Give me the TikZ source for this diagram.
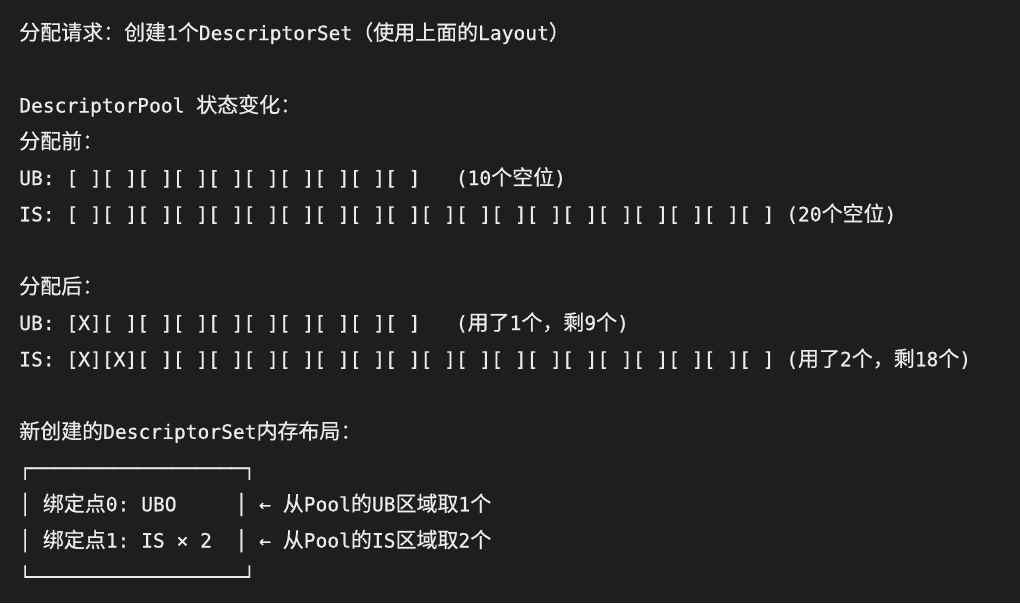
\documentclass[tikz,border=0pt]{standalone}
\usepackage{fontspec}
\setmonofont[FakeBold=0.7]{DejaVu Sans Mono}
\newfontfamily\zhfont[Scale=1.07, FakeBold=0.5]{Noto Sans CJK SC}
\newcommand\zh[1]{{\zhfont#1}}
\definecolor{codebg}{HTML}{1E1E1E}
\definecolor{codefg}{HTML}{ECECEC}
\tikzset{
    codeline/.style={anchor=base west, inner sep=0pt, text=codefg,
        font=\ttfamily\fontsize{14.7pt}{18pt}\selectfont\frenchspacing},
}

\begin{document}
\begin{tikzpicture}[x=0.75pt, y=-0.75pt]
                \fill[codebg] (0,0) rectangle (1020,603);

                \node[codeline] (req) at (19,40) {\zh{分配请求：创建}1\zh{个}DescriptorSet\zh{（使用上面的}Layout\zh{）}};

                \node[codeline] (poolhead) at (19,112.5) {DescriptorPool \zh{状态变化：}};
                \node[codeline] (beforehead) at (19,148.75) {\zh{分配前：}};
                \node[codeline] (ubbefore) at (19,185) {UB: [ ][ ][ ][ ][ ][ ][ ][ ][ ][ ]~~~(10\zh{个空位})};
                \node[codeline] (isbefore) at (19,221.25) {IS: [ ][ ][ ][ ][ ][ ][ ][ ][ ][ ][ ][ ][ ][ ][ ][ ][ ][ ][ ][ ] (20\zh{个空位})};

                \node[codeline] (afterhead) at (19,293.75) {\zh{分配后：}};
                \node[codeline] (ubafter) at (19,330) {UB: [X][ ][ ][ ][ ][ ][ ][ ][ ][ ]~~~(\zh{用了}1\zh{个，剩}9\zh{个})};
                \node[codeline] (isafter) at (19,366.25) {IS: [X][X][ ][ ][ ][ ][ ][ ][ ][ ][ ][ ][ ][ ][ ][ ][ ][ ][ ][ ] (\zh{用了}2\zh{个，剩}18\zh{个})};

                \node[codeline] (sethead) at (19,438.75) {\zh{新创建的}DescriptorSet\zh{内存布局：}};
                \node[codeline] (settop) at (19,475) {┌──────────────────┐};
                \node[codeline] (bindzero) at (19,511.25) {│ \zh{绑定点}0: UBO~~~~~│ ← \zh{从}Pool\zh{的}UB\zh{区域取}1\zh{个}};
                \node[codeline] (bindone) at (19,547.5) {│ \zh{绑定点}1: IS × 2~~│ ← \zh{从}Pool\zh{的}IS\zh{区域取}2\zh{个}};
                \node[codeline] (setbottom) at (19,583.75) {└──────────────────┘};
            \end{tikzpicture}
\end{document}
